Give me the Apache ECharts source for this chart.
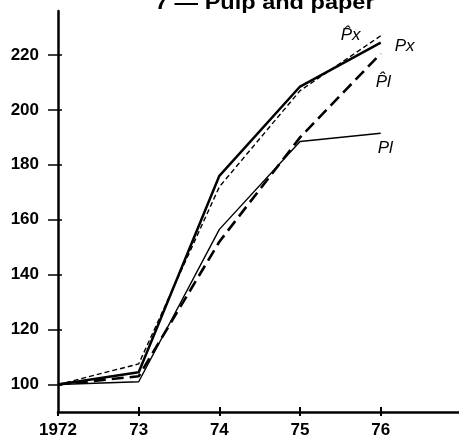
<!DOCTYPE html>
<html><head><meta charset="utf-8">
<script src="https://cdn.jsdelivr.net/npm/echarts@6/dist/echarts.min.js"></script>
<style>html,body{margin:0;padding:0;background:#fff}#c{width:459px;height:441px}</style>
</head><body><div id="c"></div>
<script>
const years = [1972, 1973, 1974, 1975, 1976];
const yearLabels = ['1972', '73', '74', '75', '76'];
const yTicks = [100, 120, 140, 160, 180, 200, 220];
const px = [100, 104.5, 176, 208.5, 224.5];
const pxHat = [100, 107.5, 172, 207, 227];
const plHat = [100, 103, 152, 190, 220.5];
const pl = [100, 101, 156.5, 188.5, 191.5];
const seriesNames = ['Px', 'P\u0302x', 'P\u0302l', 'Pl'];
const titleText = '7 \u2014 Pulp and paper';

const chart = echarts.init(document.getElementById('c'));
const font = 'Liberation Sans, Arial, sans-serif';
const lbl = { fontFamily: font, fontStyle: 'italic', fontSize: 17, color: '#000' };
function pts(arr) { return years.map((y, i) => [y, arr[i]]); }
const xBase = { type: 'value', min: 1972, max: 1976.97, splitLine: { show: false } };
const yBase = { type: 'value', min: 90, max: 236, splitLine: { show: false } };
chart.setOption({
  animation: false,
  grid: { left: 58, right: 0, top: 11, bottom: 29 },
  graphic: [{
    type: 'text', x: 155, y: 3, scaleX: 1.12,
    style: { text: titleText, font: 'bold 21px ' + font, fill: '#000', align: 'left', verticalAlign: 'middle' }
  }],
  xAxis: [
    Object.assign({}, xBase, {
      axisLine: { lineStyle: { color: '#000', width: 2.5 } },
      axisTick: { customValues: years, length: 4, lineStyle: { color: '#000', width: 2 } },
      axisLabel: { customValues: years, formatter: v => yearLabels[years.indexOf(v)] || '', margin: 10, color: '#000', fontFamily: font, fontWeight: 'bold', fontSize: 17 }
    }),
    Object.assign({}, xBase, {
      position: 'bottom',
      axisLine: { show: false },
      axisTick: { inside: true, customValues: years.slice(1), length: 5, lineStyle: { color: '#000', width: 2 } },
      axisLabel: { show: false }
    })
  ],
  yAxis: [
    Object.assign({}, yBase, {
      axisLine: { show: true, lineStyle: { color: '#000', width: 2.5 } },
      axisTick: { show: true, customValues: yTicks, length: 10, lineStyle: { color: '#000', width: 1.5 } },
      axisLabel: { customValues: yTicks, margin: 19, color: '#000', fontFamily: font, fontWeight: 'bold', fontSize: 17 }
    }),
    Object.assign({}, yBase, {
      position: 'left',
      axisLine: { show: false },
      axisTick: { show: true, inside: true, customValues: yTicks, length: 4, lineStyle: { color: '#000', width: 1.5 } },
      axisLabel: { show: false }
    })
  ],
  series: [
    { name: seriesNames[0], type: 'line', data: pts(px), symbol: 'none', z: 5,
      lineStyle: { color: '#000', width: 2.5 },
      endLabel: Object.assign({ show: true, formatter: seriesNames[0], offset: [6, 4] }, lbl) },
    { name: seriesNames[1], type: 'line', data: pts(pxHat), symbol: 'none', z: 4,
      lineStyle: { color: '#000', width: 1.4, type: [5, 3] },
      endLabel: Object.assign({ show: true, formatter: seriesNames[1], offset: [-48, 0] }, lbl) },
    { name: seriesNames[2], type: 'line', data: pts(plHat), symbol: 'none', z: 3,
      lineStyle: { color: '#000', width: 2.6, type: [12, 6] },
      endLabel: Object.assign({ show: true, formatter: seriesNames[2], offset: [-13, 29] }, lbl) },
    { name: seriesNames[3], type: 'line', data: pts(pl), symbol: 'none', z: 2,
      lineStyle: { color: '#000', width: 1.4 },
      endLabel: Object.assign({ show: true, formatter: seriesNames[3], offset: [-11, 15] }, lbl) }
  ]
});
</script></body></html>
